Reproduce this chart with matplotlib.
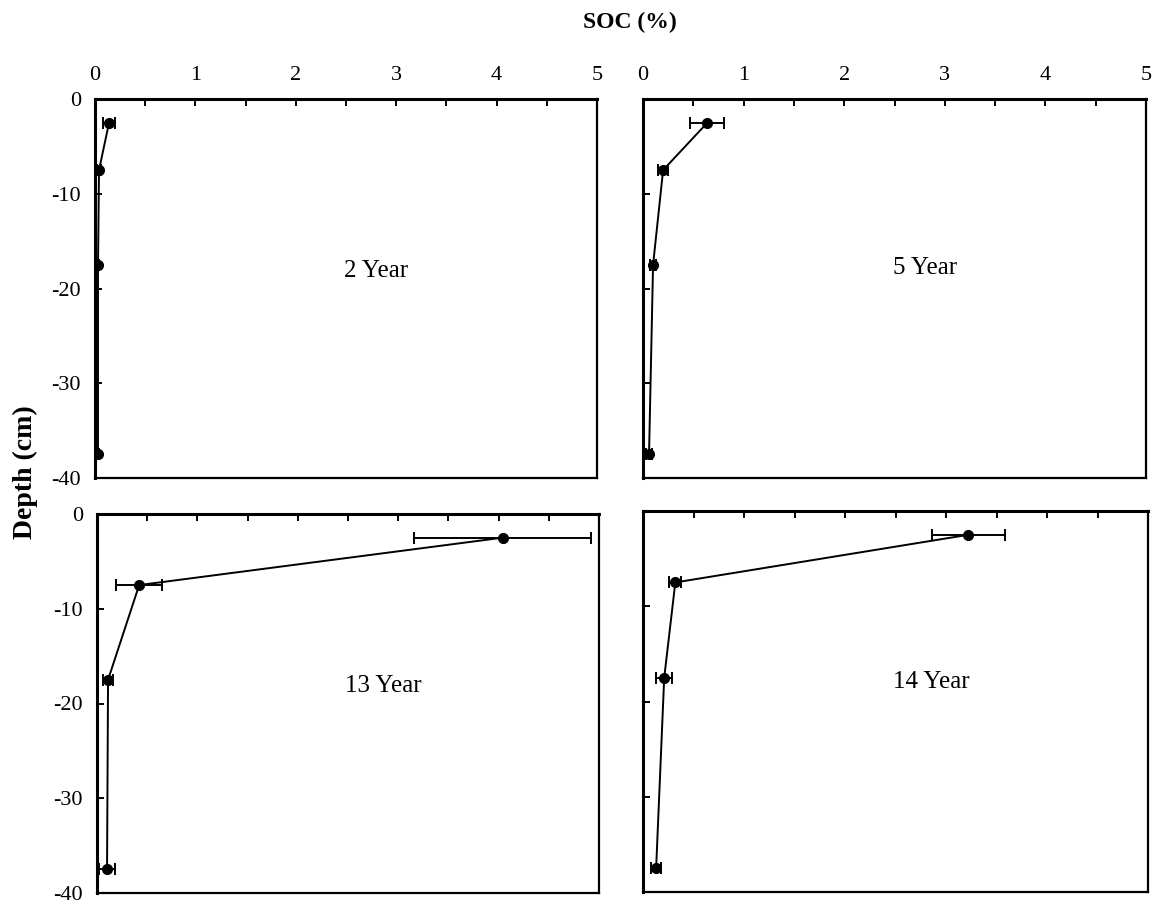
import matplotlib
matplotlib.use('Agg')
import matplotlib.pyplot as plt
from matplotlib.ticker import MultipleLocator

plt.rcParams['font.family'] = ['Liberation Serif', 'DejaVu Serif']
plt.rcParams['axes.unicode_minus'] = False

# depth of sampling layers (cm)
depth = [-2.5, -7.5, -17.5, -37.5]

# SOC (%) mean and error for each stand age
soc_2 = [0.14, 0.04, 0.03, 0.03]
err_2 = [0.06, 0.02, 0.01, 0.01]
soc_5 = [0.64, 0.20, 0.10, 0.06]
err_5 = [0.17, 0.05, 0.03, 0.03]
soc_13 = [4.04, 0.42, 0.11, 0.10]
err_13 = [0.88, 0.23, 0.05, 0.08]
soc_14 = [3.22, 0.32, 0.21, 0.13]
err_14 = [0.36, 0.06, 0.08, 0.05]

labels = ['2 Year', '5 Year', '13 Year', '14 Year']
yticks = [0, -10, -20, -30, -40]

W, H = 1157, 907
fig = plt.figure(figsize=(W / 100, H / 100), dpi=100)

# panel boxes in pixels: left, top, right, bottom
boxes = [(95, 99, 597, 478), (643, 99, 1146, 478),
         (97, 514, 599, 893), (643, 511, 1148, 892)]
series = [(soc_2, err_2), (soc_5, err_5), (soc_13, err_13), (soc_14, err_14)]
label_pos = [(2.8, -18.2), (2.8, -17.8), (2.85, -18.2), (2.85, -18.0)]

for i, (box, (soc, err), lab) in enumerate(zip(boxes, series, labels)):
    l, t, r, b = box
    ax = fig.add_axes([l / W, (H - b) / H, (r - l) / W, (b - t) / H])
    ax.errorbar(soc, depth, xerr=err, color='black', lw=1.4, marker='o',
                ms=7, capsize=4, elinewidth=1.4, capthick=1.4)
    ax.set_xlim(0, 5)
    ax.set_ylim(-40, 0)
    ax.xaxis.set_major_locator(MultipleLocator(1))
    ax.xaxis.set_minor_locator(MultipleLocator(0.5))
    ax.set_yticks(yticks)
    ax.tick_params(axis='both', which='both', direction='in', length=5, width=1.4,
                   top=True, bottom=False, right=False, left=True,
                   labeltop=(i < 2), labelbottom=False, labelleft=(i % 2 == 0),
                   labelsize=16, pad=10)
    ax.tick_params(axis='y', which='minor', left=False)
    for s in ax.spines.values():
        s.set_linewidth(1.6)
    ax.spines['left'].set_linewidth(2.2)
    ax.spines['top'].set_linewidth(2.2)
    ax.text(label_pos[i][0], label_pos[i][1], lab, fontsize=18, ha='center', va='center')

fig.text(630 / W, 1 - 22 / H, 'SOC (%)', fontsize=17, fontweight='bold', ha='center', va='center')
fig.text(25 / W, 1 - 472 / H, 'Depth (cm)', fontsize=20, fontweight='bold',
         ha='center', va='center', rotation=90)

fig.savefig('out.png', dpi=100)
